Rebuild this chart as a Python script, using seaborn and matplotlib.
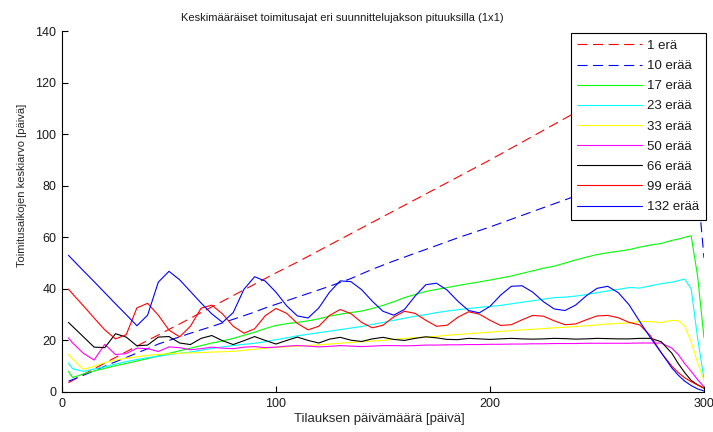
import pandas as pd
import matplotlib
matplotlib.use("Agg")
from matplotlib import pyplot as plt
import seaborn as sns

# Sampling days (x axis, päivä)
days = [3, 5, 10, 15, 20, 25, 30, 35, 40, 45,
        50, 55, 60, 65, 70, 75, 80, 85, 90, 95,
        100, 105, 110, 115, 120, 125, 130, 135, 140, 145,
        150, 155, 160, 165, 170, 175, 180, 185, 190, 195,
        200, 205, 210, 215, 220, 225, 230, 235, 240, 245,
        250, 255, 260, 265, 270, 275, 280, 285,
        288, 291, 294, 297, 300]

# Average delivery times
era_1 = [3.6, 4.5, 6.8, 9.0, 11.2, 13.4, 15.6, 17.8, 20.0, 22.1,
         24.3, 26.4, 28.6, 30.8, 33.0, 35.2, 37.4, 39.6, 41.8, 44.0,
         46.2, 48.3, 50.4, 52.6, 54.8, 57.0, 59.2, 61.4, 63.6, 65.8,
         68.0, 70.2, 72.4, 74.6, 76.8, 79.0, 81.2, 83.4, 85.6, 87.8,
         90.0, 92.3, 94.6, 96.9, 99.2, 101.5, 103.8, 106.1, 108.4, 110.7,
         113.0, 115.3, 117.6, 119.9, 122.2, 124.5, 126.8, 129.1,
         130.5, 131.8, 133.0, 115.0, 95.0]
era_10 = [4.2, 4.8, 6.5, 8.2, 10.0, 11.7, 13.4, 15.1, 16.8, 18.6,
          20.0, 21.4, 22.8, 24.1, 25.4, 26.8, 28.2, 29.6, 31.0, 32.6,
          34.0, 35.4, 36.8, 38.2, 39.6, 41.0, 42.5, 44.0, 45.8, 47.6,
          49.2, 50.8, 52.3, 53.8, 55.3, 56.8, 58.3, 59.8, 61.2, 62.6,
          64.0, 65.5, 67.0, 68.5, 70.0, 71.5, 73.0, 74.5, 76.0, 77.5,
          79.0, 80.5, 82.0, 83.5, 85.0, 86.5, 88.0, 89.5,
          90.5, 91.3, 92.0, 80.0, 52.0]
era_17 = [8.0, 5.6, 7.0, 8.2, 9.2, 10.2, 11.1, 12.0, 13.0, 14.0,
          15.0, 16.0, 17.0, 18.0, 19.0, 19.8, 20.8, 22.0, 23.2, 24.6,
          25.8, 26.5, 27.0, 27.6, 28.4, 29.4, 30.2, 30.8, 31.4, 32.4,
          33.6, 35.0, 36.6, 37.8, 39.0, 39.8, 40.5, 41.3, 42.0, 42.7,
          43.4, 44.2, 45.0, 46.0, 47.0, 48.0, 48.8, 50.0, 51.2, 52.3,
          53.3, 54.0, 54.6, 55.2, 56.2, 57.0, 57.6, 58.8,
          59.3, 60.0, 60.6, 45.0, 21.0]
era_23 = [11.2, 9.0, 8.0, 8.9, 9.8, 10.8, 11.8, 12.6, 13.3, 13.9,
          14.5, 15.0, 15.5, 16.2, 16.9, 17.5, 18.0, 18.5, 18.9, 19.5,
          20.3, 21.0, 21.8, 22.4, 23.0, 23.6, 24.2, 24.8, 25.4, 26.2,
          27.0, 27.8, 28.6, 29.4, 30.0, 30.8, 31.4, 31.9, 32.4, 32.8,
          33.2, 33.6, 34.2, 34.8, 35.4, 36.0, 36.6, 36.8, 37.2, 37.8,
          38.5, 39.2, 39.8, 40.5, 40.3, 41.2, 42.0, 42.6,
          43.2, 43.8, 40.0, 21.0, 5.0]
era_33 = [14.6, 12.8, 8.8, 10.0, 11.4, 12.4, 13.1, 13.7, 14.2, 14.6,
          14.8, 15.0, 15.2, 15.3, 15.5, 15.6, 15.8, 16.2, 16.6, 17.0,
          17.3, 17.5, 17.8, 18.0, 18.3, 18.6, 18.9, 19.2, 19.5, 19.8,
          20.0, 20.4, 20.8, 21.1, 21.3, 21.6, 22.0, 22.3, 22.6, 22.9,
          23.2, 23.5, 23.8, 24.1, 24.3, 24.6, 24.9, 25.1, 25.4, 25.7,
          26.0, 26.4, 26.6, 26.8, 27.4, 27.3, 26.9, 27.8,
          27.6, 25.5, 19.5, 11.5, 4.5]
era_50 = [21.0, 19.0, 15.0, 12.4, 18.5, 14.5, 14.9, 17.0, 16.8, 15.7,
          17.5, 17.2, 16.4, 16.8, 17.4, 17.0, 16.8, 17.4, 17.6, 17.2,
          17.4, 17.8, 18.0, 17.8, 17.5, 17.7, 18.0, 17.8, 17.6, 17.8,
          18.0, 18.0, 17.9, 18.0, 18.2, 18.2, 18.3, 18.3, 18.4, 18.4,
          18.5, 18.5, 18.6, 18.6, 18.7, 18.7, 18.8, 18.8, 18.8, 18.9,
          18.9, 18.9, 18.9, 18.9, 19.0, 19.0, 19.0, 17.0,
          14.5, 11.0, 8.0, 4.8, 2.0]
era_66 = [27.0, 25.4, 21.4, 17.4, 17.2, 22.6, 21.3, 17.9, 18.2, 21.3,
          21.5, 19.0, 18.4, 20.8, 21.9, 19.9, 18.4, 19.9, 21.5, 20.0,
          18.6, 20.0, 21.3, 20.0, 19.0, 20.5, 21.2, 20.1, 19.6, 20.6,
          21.2, 20.4, 20.0, 20.8, 21.4, 21.0, 20.4, 20.3, 20.8, 20.6,
          20.4, 20.6, 20.8, 20.6, 20.5, 20.6, 20.8, 20.7, 20.5, 20.6,
          20.8, 20.7, 20.6, 20.6, 20.8, 20.8, 19.5, 15.0,
          11.0, 7.5, 4.5, 2.8, 1.5]
era_99 = [39.9, 38.0, 33.4, 28.7, 24.1, 20.6, 22.2, 32.6, 34.4, 29.8,
          24.0, 21.4, 25.5, 32.5, 33.7, 30.3, 25.5, 22.8, 24.5, 29.6,
          32.4, 30.5, 26.6, 24.1, 25.5, 29.7, 32.0, 30.4, 27.0, 24.9,
          25.9, 29.1, 31.3, 30.5, 27.8, 25.5, 25.9, 29.0, 31.1, 30.2,
          27.8, 25.8, 26.1, 28.0, 29.7, 29.4, 27.6, 26.1, 26.4, 28.0,
          29.5, 29.7, 28.8, 27.0, 26.0, 21.8, 15.2, 10.0,
          7.5, 5.5, 4.0, 2.7, 1.5]
era_132 = [53.0, 51.3, 47.0, 42.8, 38.5, 34.2, 30.0, 25.7, 29.8, 42.6,
           46.8, 43.5, 39.0, 34.5, 30.3, 27.0, 30.8, 39.8, 44.7, 43.0,
           38.7, 33.4, 29.5, 28.7, 32.6, 38.7, 43.1, 42.8, 39.7, 35.2,
           31.3, 29.8, 32.0, 37.2, 41.6, 42.2, 39.5, 35.2, 31.6, 30.7,
           33.2, 37.6, 41.0, 41.2, 38.7, 35.0, 32.2, 31.6, 33.7, 37.3,
           40.2, 41.0, 38.5, 33.8, 27.3, 21.0, 15.3, 9.3,
           6.5, 4.2, 2.5, 1.2, 0.4]

labels = ["1 erä", "10 erää", "17 erää", "23 erää", "33 erää",
          "50 erää", "66 erää", "99 erää", "132 erää"]
series = [era_1, era_10, era_17, era_23, era_33,
          era_50, era_66, era_99, era_132]
colors = ["#ff0000", "#0000ff", "#00ff00", "#00ffff", "#ffff00",
          "#ff00ff", "#000000", "#ff0000", "#0000ff"]

# Long-form table for seaborn
df = pd.concat([pd.DataFrame({"paiva": days, "keskiarvo": vals, "sarja": lab})
                for lab, vals in zip(labels, series)], ignore_index=True)

palette = dict(zip(labels, colors))
dashes = {lab: "" for lab in labels}
dashes["1 erä"] = (9, 5)
dashes["10 erää"] = (9, 5)

sns.set_theme(style="white", rc={"lines.linewidth": 0.8})
plt.rcParams["font.family"] = ["Liberation Sans", "DejaVu Sans"]
plt.rcParams["text.color"] = "#1a1a1a"

fig = plt.figure(figsize=(7.13, 4.32), dpi=100)
ax = fig.add_axes([62 / 713, 40 / 432, 642 / 713, 361 / 432])

sns.lineplot(data=df, x="paiva", y="keskiarvo", hue="sarja", style="sarja",
             hue_order=labels, style_order=labels, palette=palette,
             dashes=dashes, errorbar=None, ax=ax)

ax.set_xlim(0, 300)
ax.set_ylim(0, 140)
ax.set_xticks([0, 100, 200, 300])
ax.set_yticks(range(0, 141, 20))
ax.tick_params(direction="in", length=4.3, width=0.8, color="black",
               labelsize=9, labelcolor="#1a1a1a", pad=4,
               bottom=True, left=True)
sns.despine(ax=ax)
for side in ["left", "bottom"]:
    ax.spines[side].set_color("black")
    ax.spines[side].set_linewidth(0.8)

ax.set_title("Keskimääräiset toimitusajat eri suunnittelujakson pituuksilla (1x1)",
             fontsize=8, x=0.436, y=1.028, pad=0)
ax.set_xlabel("Tilauksen päivämäärä [päivä]", fontsize=9.5)
ax.set_ylabel("Toimitusaikojen keskiarvo [päivä]", fontsize=8)
ax.xaxis.set_label_coords(0.495, -0.058)
ax.yaxis.set_label_coords(-0.0545, 0.571)

sns.move_legend(ax, "upper right", bbox_to_anchor=(1.003, 0.994),
                title=None, frameon=True, fancybox=False, shadow=False,
                edgecolor="black", facecolor="white", framealpha=1,
                fontsize=9.5, handlelength=4.9, handletextpad=0.4,
                labelspacing=0.6, borderpad=0.5, borderaxespad=0)
ax.get_legend().get_frame().set_linewidth(0.8)

fig.savefig("out.png", dpi=100)
